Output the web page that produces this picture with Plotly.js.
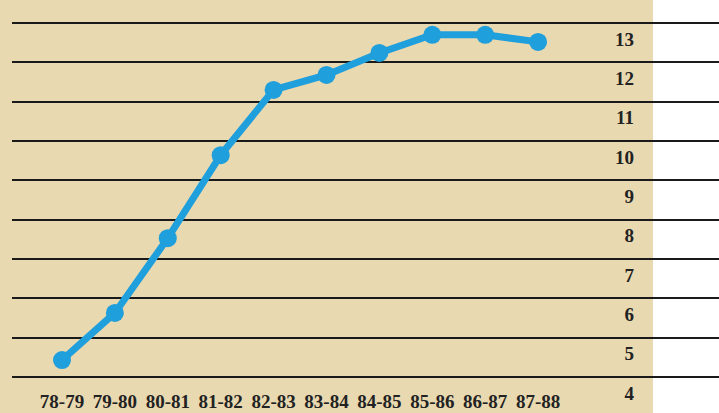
<!DOCTYPE html>
<html>
<head>
<meta charset="utf-8">
<script src="https://cdn.plot.ly/plotly-3.0.1.min.js"></script>
<style>html,body{margin:0;padding:0;background:#fff;}#chart{width:719px;height:413px;}</style>
</head>
<body>
<div id="chart"></div>
<script>
var seasons = ["78-79","79-80","80-81","81-82","82-83","83-84","84-85","85-86","86-87","87-88"];
var values = [4.43, 5.63, 7.53, 9.64, 11.3, 11.68, 12.24, 12.7, 12.7, 12.52];
var yTicks = [4,5,6,7,8,9,10,11,12,13];
var yTickText = ["4","5","6","7","8","9","10","11","12","13"];

var W = 719, H = 413, L = 12;
var plotW = W - L;
var tanRight = 653;
var FONT = "Liberation Serif, Times New Roman, serif";

var trace = {
  x: seasons.map(function(_, i){ return i; }),
  y: values,
  type: "scatter",
  mode: "lines+markers",
  line: {color: "#1f9fdb", width: 7},
  marker: {color: "#1f9fdb", size: 18},
  hoverinfo: "skip"
};

var layout = {
  width: W, height: H,
  margin: {l: L, r: 0, t: 0, b: 0},
  paper_bgcolor: "#e9d9b1",
  plot_bgcolor: "rgba(0,0,0,0)",
  showlegend: false,
  font: {family: FONT, size: 19, color: "#222"},
  xaxis: {
    range: [-0.945, -0.945 + plotW / 52.9],
    tickvals: seasons.map(function(_, i){ return i; }),
    ticktext: seasons,
    tickangle: 0,
    ticklabelposition: "inside",
    ticklabelstandoff: -2,
    showgrid: false, zeroline: false, showline: false,
    ticks: "",
    tickfont: {family: FONT, size: 19, color: "#222", weight: "bold"},
    fixedrange: true
  },
  yaxis: {
    range: [3.085, 13.585],
    side: "right",
    tickvals: yTicks,
    ticktext: yTickText,
    ticklabelposition: "inside",
    ticklabelstandoff: 82,
    ticklabelshift: 16,
    showgrid: true, gridcolor: "#1a1a1a", gridwidth: 2,
    zeroline: false, showline: false, ticks: "",
    tickfont: {family: FONT, size: 19, color: "#222", weight: "bold"},
    fixedrange: true
  },
  shapes: [{
    type: "rect", xref: "paper", yref: "paper", layer: "below",
    x0: (tanRight - L) / plotW, x1: 1.01, y0: -0.01, y1: 1.01,
    fillcolor: "#ffffff", line: {width: 0}
  }]
};

Plotly.newPlot("chart", [trace], layout, {staticPlot: true, displayModeBar: false});
</script>
</body>
</html>
